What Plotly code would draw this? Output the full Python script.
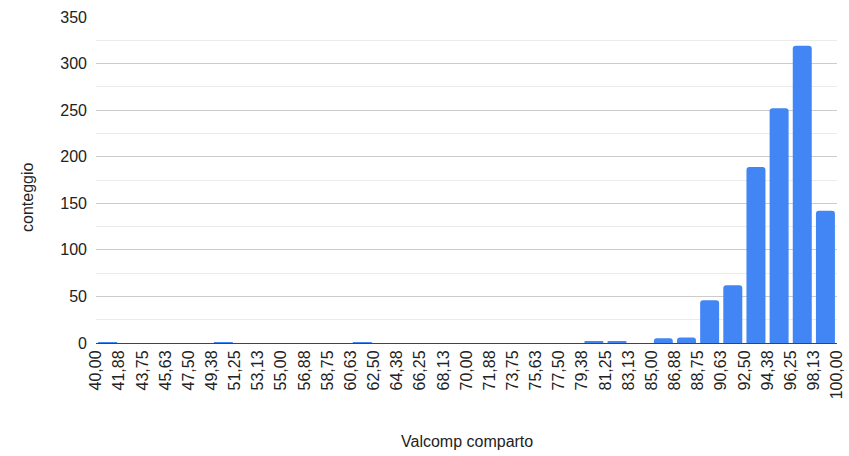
import plotly.graph_objects as go

# Histogram data (bucket edges and counts)
bin_start = 40.0
bin_width = 1.875
counts = [1, 0, 0, 0, 0, 1, 0, 0, 0, 0, 0, 1, 0, 0, 0, 0,
          0, 0, 0, 0, 0, 2, 2, 0, 5, 6, 46, 62, 189, 252, 319, 142]
tick_labels = ["40,00", "41,88", "43,75", "45,63", "47,50", "49,38", "51,25",
               "53,13", "55,00", "56,88", "58,75", "60,63", "62,50", "64,38",
               "66,25", "68,13", "70,00", "71,88", "73,75", "75,63", "77,50",
               "79,38", "81,25", "83,13", "85,00", "86,88", "88,75", "90,63",
               "92,50", "94,38", "96,25", "98,13", "100,00"]
x_title = "Valcomp comparto"
y_title = "conteggio"

centers = [bin_start + bin_width * (i + 0.5) for i in range(len(counts))]
edges = [bin_start + bin_width * i for i in range(len(counts) + 1)]

font = "Liberation Sans, Arial, sans-serif"
W, H = 849, 456
ML, MR, MT, MB = 96, 12, 17, 113
plot_h = H - MT - MB
plot_w = W - ML - MR

fig = go.Figure(go.Bar(
    x=centers, y=counts, width=bin_width * 0.82,
    marker=dict(color="#4285F4", line=dict(width=0)),
    hoverinfo="x+y",
))

fig.update_layout(
    width=W, height=H,
    margin=dict(l=ML, r=MR, t=MT, b=MB, autoexpand=False),
    paper_bgcolor="white", plot_bgcolor="white",
    showlegend=False,
    barcornerradius=3,
    font=dict(family=font, size=16, color="#222222"),
)
fig.add_annotation(text=x_title, xref="paper", yref="paper",
                   x=0.5, y=-(441 - (H - MB)) / plot_h, yanchor="middle",
                   showarrow=False, font=dict(family=font, size=16, color="#222222"))
fig.add_annotation(text=y_title, xref="paper", yref="paper",
                   x=-(ML - 27) / plot_w, xanchor="center",
                   y=((H - MB) - 198) / plot_h, yanchor="middle", textangle=-90,
                   showarrow=False, font=dict(family=font, size=16, color="#222222"))

fig.update_xaxes(
    range=[bin_start, edges[-1]], automargin=False,
    tickmode="array", tickvals=edges, ticktext=tick_labels,
    tickangle=-90, showgrid=False, zeroline=False,
    showline=True, linecolor="#444444", linewidth=1,
    ticks="", tickfont=dict(family=font, size=16, color="#222222"),
)
fig.update_yaxes(
    range=[0, 350], automargin=False, tickmode="linear", tick0=0, dtick=50,
    showgrid=True, gridcolor="#cccccc", gridwidth=1,
    zeroline=False, showline=False, ticks="",
    ticklabelstandoff=8,
    tickfont=dict(family=font, size=16, color="#222222"),
    minor=dict(dtick=25, showgrid=True, gridcolor="#ebebeb", gridwidth=1),
)

fig.write_html("out.html",
               config={"displayModeBar": False},
               post_script="document.body.style.margin='0';document.body.style.overflow='hidden';")
